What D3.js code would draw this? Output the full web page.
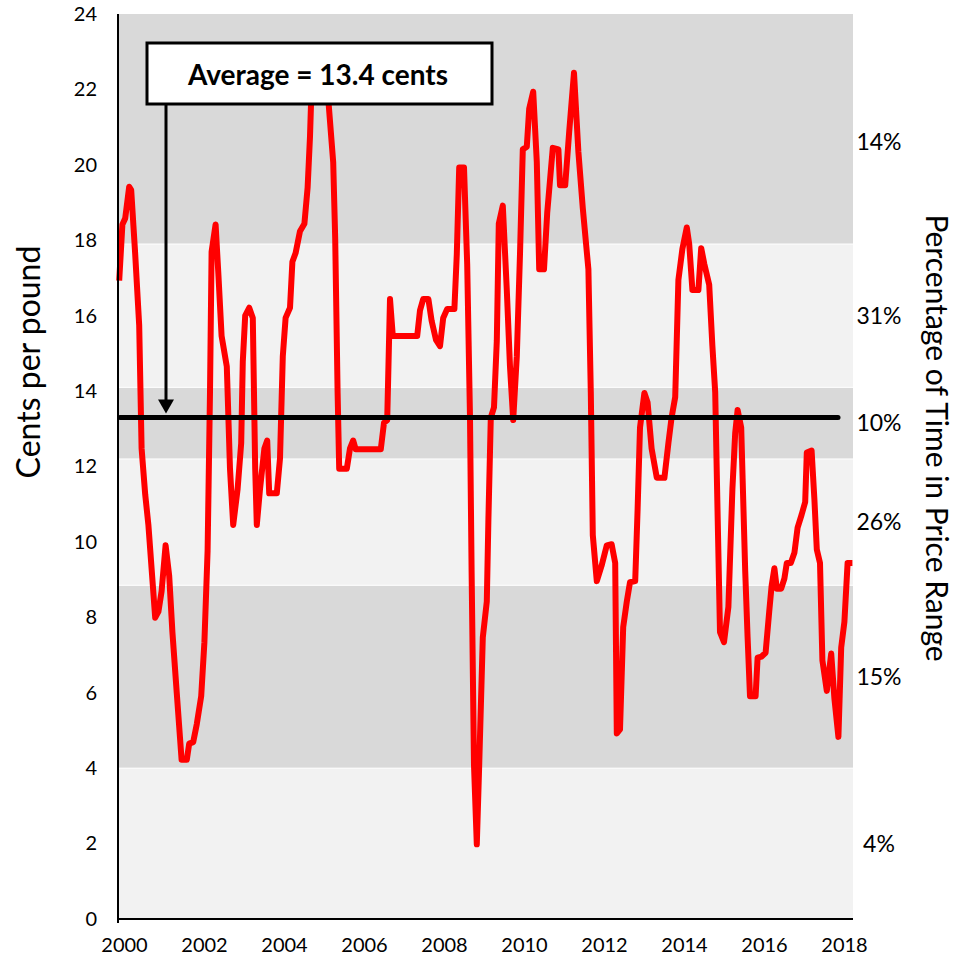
<!DOCTYPE html>
<html>
<head>
<meta charset="utf-8">
<script src="https://cdn.jsdelivr.net/npm/d3@7"></script>
<style>
  body { margin: 0; background: #fff; }
  text { font-family: Lato, "Open Sans", sans-serif; fill: #000; }
</style>
</head>
<body>
<svg width="958" height="960"></svg>
<script>
// price series (decimal year, cents per pound)
const dates = [
  1999.88, 1999.96, 2000.03, 2000.13, 2000.18, 2000.28, 2000.38, 2000.44, 2000.53, 2000.61,
  2000.78, 2000.86, 2000.94, 2001.04, 2001.13, 2001.21, 2001.32, 2001.44, 2001.57, 2001.63,
  2001.73, 2001.82, 2001.93, 2002.01, 2002.09, 2002.15, 2002.19, 2002.29, 2002.36, 2002.44,
  2002.57, 2002.65, 2002.73, 2002.84, 2002.93, 2002.97, 2003.03, 2003.13, 2003.22, 2003.28,
  2003.32, 2003.40, 2003.51, 2003.58, 2003.63, 2003.82, 2003.90, 2003.97, 2004.04, 2004.15,
  2004.21, 2004.29, 2004.40, 2004.51, 2004.59, 2004.65, 2004.69, 2004.80, 2004.95, 2005.05,
  2005.11, 2005.23, 2005.28, 2005.34, 2005.38, 2005.57, 2005.65, 2005.73, 2005.79, 2006.42,
  2006.50, 2006.58, 2006.65, 2006.72, 2007.33, 2007.40, 2007.48, 2007.61, 2007.69, 2007.80,
  2007.90, 2007.98, 2008.08, 2008.26, 2008.32, 2008.38, 2008.50, 2008.58, 2008.65, 2008.69,
  2008.75, 2008.82, 2008.88, 2008.97, 2009.07, 2009.11, 2009.17, 2009.25, 2009.32, 2009.37,
  2009.47, 2009.57, 2009.65, 2009.73, 2009.82, 2009.90, 2009.97, 2010.07, 2010.13, 2010.23,
  2010.32, 2010.38, 2010.50, 2010.58, 2010.72, 2010.86, 2010.90, 2011.03, 2011.13, 2011.25,
  2011.36, 2011.47, 2011.61, 2011.67, 2011.72, 2011.82, 2011.94, 2012.07, 2012.19, 2012.28,
  2012.32, 2012.40, 2012.48, 2012.57, 2012.65, 2012.78, 2012.84, 2012.90, 2013.01, 2013.09,
  2013.19, 2013.28, 2013.32, 2013.51, 2013.61, 2013.69, 2013.78, 2013.86, 2013.96, 2014.07,
  2014.13, 2014.21, 2014.36, 2014.43, 2014.51, 2014.63, 2014.71, 2014.78, 2014.83, 2014.90,
  2015.00, 2015.11, 2015.21, 2015.28, 2015.34, 2015.43, 2015.53, 2015.59, 2015.65, 2015.79,
  2015.84, 2015.94, 2016.04, 2016.13, 2016.19, 2016.26, 2016.32, 2016.43, 2016.51, 2016.57,
  2016.67, 2016.76, 2016.84, 2016.94, 2017.03, 2017.07, 2017.19, 2017.26, 2017.32, 2017.40,
  2017.46, 2017.57, 2017.68, 2017.76, 2017.86, 2017.93, 2018.01, 2018.09, 2018.21
];
const cents = [
  16.93, 18.42, 18.58, 19.42, 19.33, 17.63, 15.74, 12.48, 11.26, 10.45,
  7.99, 8.15, 8.69, 9.91, 9.10, 7.61, 5.98, 4.22, 4.22, 4.65,
  4.69, 5.17, 5.91, 7.34, 9.77, 13.97, 17.70, 18.42, 17.09, 15.46,
  14.65, 11.94, 10.45, 11.40, 12.62, 14.79, 16.00, 16.21, 15.94, 11.94,
  10.45, 11.40, 12.48, 12.69, 11.29, 11.29, 12.21, 14.92, 15.94, 16.21,
  17.43, 17.66, 18.24, 18.44, 19.39, 20.75, 22.10, 22.80, 22.90, 22.60,
  21.70, 20.07, 18.04, 13.97, 11.94, 11.94, 12.48, 12.69, 12.46, 12.46,
  13.16, 13.23, 16.44, 15.46, 15.46, 16.14, 16.44, 16.44, 15.87, 15.36,
  15.19, 15.94, 16.18, 16.18, 17.63, 19.93, 19.93, 17.36, 13.30, 9.23,
  4.08, 1.98, 4.08, 7.47, 8.42, 10.59, 13.30, 13.57, 15.33, 18.44,
  18.92, 16.68, 14.65, 13.23, 14.92, 17.63, 20.41, 20.48, 21.49, 21.94,
  20.07, 17.23, 17.23, 18.72, 20.45, 20.41, 19.46, 19.46, 20.88, 22.44,
  20.34, 18.85, 17.23, 13.97, 10.18, 8.96, 9.37, 9.91, 9.94, 9.44,
  4.92, 5.03, 7.74, 8.42, 8.93, 8.96, 10.86, 13.03, 13.95, 13.70,
  12.48, 11.94, 11.70, 11.70, 12.62, 13.30, 13.84, 16.95, 17.77, 18.34,
  17.90, 16.68, 16.68, 17.79, 17.36, 16.82, 15.19, 13.97, 11.26, 7.61,
  7.34, 8.28, 11.40, 12.89, 13.50, 13.03, 9.23, 7.47, 5.91, 5.91,
  6.93, 6.96, 7.06, 8.15, 8.83, 9.30, 8.76, 8.76, 9.03, 9.44,
  9.44, 9.71, 10.38, 10.72, 11.06, 12.37, 12.42, 11.13, 9.80, 9.44,
  6.86, 6.05, 7.04, 5.85, 4.83, 7.20, 7.88, 9.44, 9.44
];

// price ranges (cents) and share of time spent in each
const bandEdges = [0, 4, 8.85, 12.2, 14.1, 17.9, 24];
const bandShares = ["4%", "15%", "26%", "10%", "31%", "14%"];

const yTicks = [0, 2, 4, 6, 8, 10, 12, 14, 16, 18, 20, 22, 24];
const yearTicks = [2000, 2002, 2004, 2006, 2008, 2010, 2012, 2014, 2016, 2018];

const averageLevel = 13.3;
const averageLabel = "Average = 13.4 cents";

const svg = d3.select("svg");

const x = d3.scaleLinear().domain([1999.85, 2018.225]).range([118, 853]);
const y = d3.scaleLinear().domain([0, 24]).range([919, 14]);

// background bands
const bands = d3.range(bandShares.length).map(i => ({
  lo: bandEdges[i], hi: bandEdges[i + 1], share: bandShares[i]
}));

svg.append("g").selectAll("rect")
  .data(bands)
  .join("rect")
  .attr("x", x.range()[0])
  .attr("width", x.range()[1] - x.range()[0])
  .attr("y", d => y(d.hi))
  .attr("height", d => y(d.lo) - y(d.hi))
  .attr("fill", (d, i) => i % 2 ? "#d9d9d9" : "#f2f2f2");

svg.append("g").selectAll("line")
  .data(bandEdges.slice(1, -1))
  .join("line")
  .attr("x1", x.range()[0]).attr("x2", x.range()[1])
  .attr("y1", d => y(d)).attr("y2", d => y(d))
  .attr("stroke", "#fff").attr("stroke-width", 1);

// share labels on the right, top label sits lower than band middle
svg.append("g").selectAll("text")
  .data(bands)
  .join("text")
  .attr("x", 879)
  .attr("y", d => y((d.lo + Math.min(d.hi, 23.3)) / 2))
  .attr("dy", "0.35em")
  .attr("text-anchor", "middle")
  .attr("font-size", 23)
  .text(d => d.share);

// price line
const pts = dates.map((d, i) => [d, cents[i]]);
svg.append("path")
  .datum(pts)
  .attr("d", d3.line().x(d => x(d[0])).y(d => y(d[1])))
  .attr("fill", "none")
  .attr("stroke", "#ff0000")
  .attr("stroke-width", 6)
  .attr("stroke-linejoin", "round");

// average line
svg.append("line")
  .attr("x1", x.range()[0] + 2).attr("x2", x(2017.85))
  .attr("y1", y(averageLevel)).attr("y2", y(averageLevel))
  .attr("stroke", "#000").attr("stroke-width", 5)
  .attr("stroke-linecap", "round");

// axes
const yAxis = svg.append("g")
  .attr("transform", `translate(${x.range()[0]},0)`)
  .call(d3.axisLeft(y).tickValues(yTicks).tickSize(0).tickPadding(21));
yAxis.select(".domain").remove();
yAxis.selectAll("text").attr("font-size", 20).style("font-family", "Lato, sans-serif");

const xAxis = svg.append("g")
  .attr("transform", `translate(0,${y(0)})`)
  .call(d3.axisBottom(d3.scaleLinear().domain([2000, 2018]).range([124, 844]))
    .tickValues(yearTicks).tickFormat(d3.format("d")).tickSize(0).tickPadding(19));
xAxis.select(".domain").remove();
xAxis.selectAll("text").attr("font-size", 20).style("font-family", "Lato, sans-serif");

svg.append("line")
  .attr("x1", x.range()[0]).attr("x2", x.range()[0])
  .attr("y1", y(24)).attr("y2", y(0) + 4)
  .attr("stroke", "#000").attr("stroke-width", 2);
svg.append("line")
  .attr("x1", x.range()[0] - 1).attr("x2", x.range()[1])
  .attr("y1", y(0)).attr("y2", y(0))
  .attr("stroke", "#000").attr("stroke-width", 2);

// axis titles
svg.append("text")
  .attr("transform", `translate(40,362) rotate(-90)`)
  .attr("text-anchor", "middle")
  .attr("font-size", 32)
  .text("Cents per pound");

svg.append("text")
  .attr("transform", `translate(926,438) rotate(90)`)
  .attr("text-anchor", "middle")
  .attr("font-size", 30)
  .text("Percentage of Time in Price Range");

// annotation: arrow from the box down to the average line
const arrowX = x(2001.05);
const tipY = y(averageLevel) - 4;
svg.append("line")
  .attr("x1", arrowX).attr("x2", arrowX)
  .attr("y1", 104).attr("y2", tipY - 12)
  .attr("stroke", "#000").attr("stroke-width", 3);
svg.append("path")
  .attr("d", `M${arrowX - 8},${tipY - 14}L${arrowX + 8},${tipY - 14}L${arrowX},${tipY}Z`)
  .attr("fill", "#000");

svg.append("rect")
  .attr("x", 147).attr("y", 43)
  .attr("width", 345).attr("height", 61)
  .attr("fill", "#fff").attr("stroke", "#000").attr("stroke-width", 3);
svg.append("text")
  .attr("x", 318).attr("y", 85)
  .attr("text-anchor", "middle")
  .attr("font-size", 28).attr("font-weight", "bold")
  .text(averageLabel);
</script>
</body>
</html>
